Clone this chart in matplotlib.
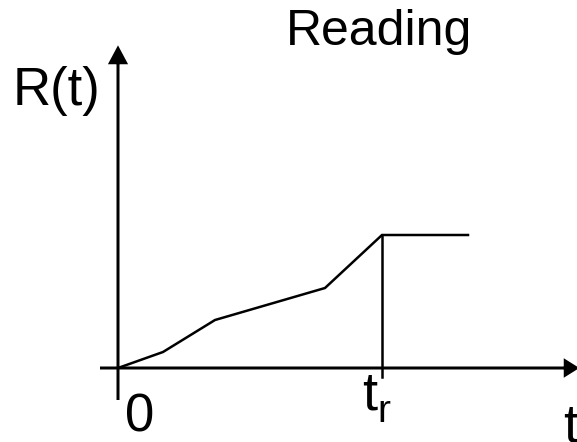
import matplotlib
matplotlib.use("Agg")
import matplotlib.pyplot as plt

plt.rcParams['font.family'] = ['Liberation Sans', 'DejaVu Sans']

# reading curve R(t), piecewise linear, then flat after t_r
t = [0, 45, 97, 207, 264, 350]
R = [0, 16, 48, 80, 133, 133]
t_r = 264

fig = plt.figure(figsize=(5.77, 4.42), dpi=100)
ax = fig.add_axes([0, 0, 1, 1])
ax.set_xlim(-118, 459)
ax.set_ylim(-74, 368)
ax.axis('off')

lw = 1.8
# axes with arrow heads
ax.arrow(-18, 0, 477, 0, width=0.0, head_width=15, head_length=12,
         length_includes_head=True, color='black', lw=lw)
ax.arrow(0, -32, 0, 352, width=0.0, head_width=16, head_length=15,
         length_includes_head=True, color='black', lw=lw)

ax.plot(t, R, color='black', lw=lw, solid_joinstyle='miter')
ax.plot([t_r, t_r], [R[4], -9], color='black', lw=lw)

ax.text(261, 323, 'Reading', fontsize=36, ha='center', va='baseline')
ax.text(-105, 263, 'R(t)', fontsize=38, ha='left', va='baseline')
ax.text(7, -64, '0', fontsize=38, ha='left', va='baseline')
ax.text(244, -42, 't', fontsize=39, ha='left', va='baseline')
ax.text(259, -54, 'r', fontsize=28, ha='left', va='baseline')
ax.text(445, -73, 't', fontsize=39, ha='left', va='baseline')

fig.savefig('out.png', dpi=100)
